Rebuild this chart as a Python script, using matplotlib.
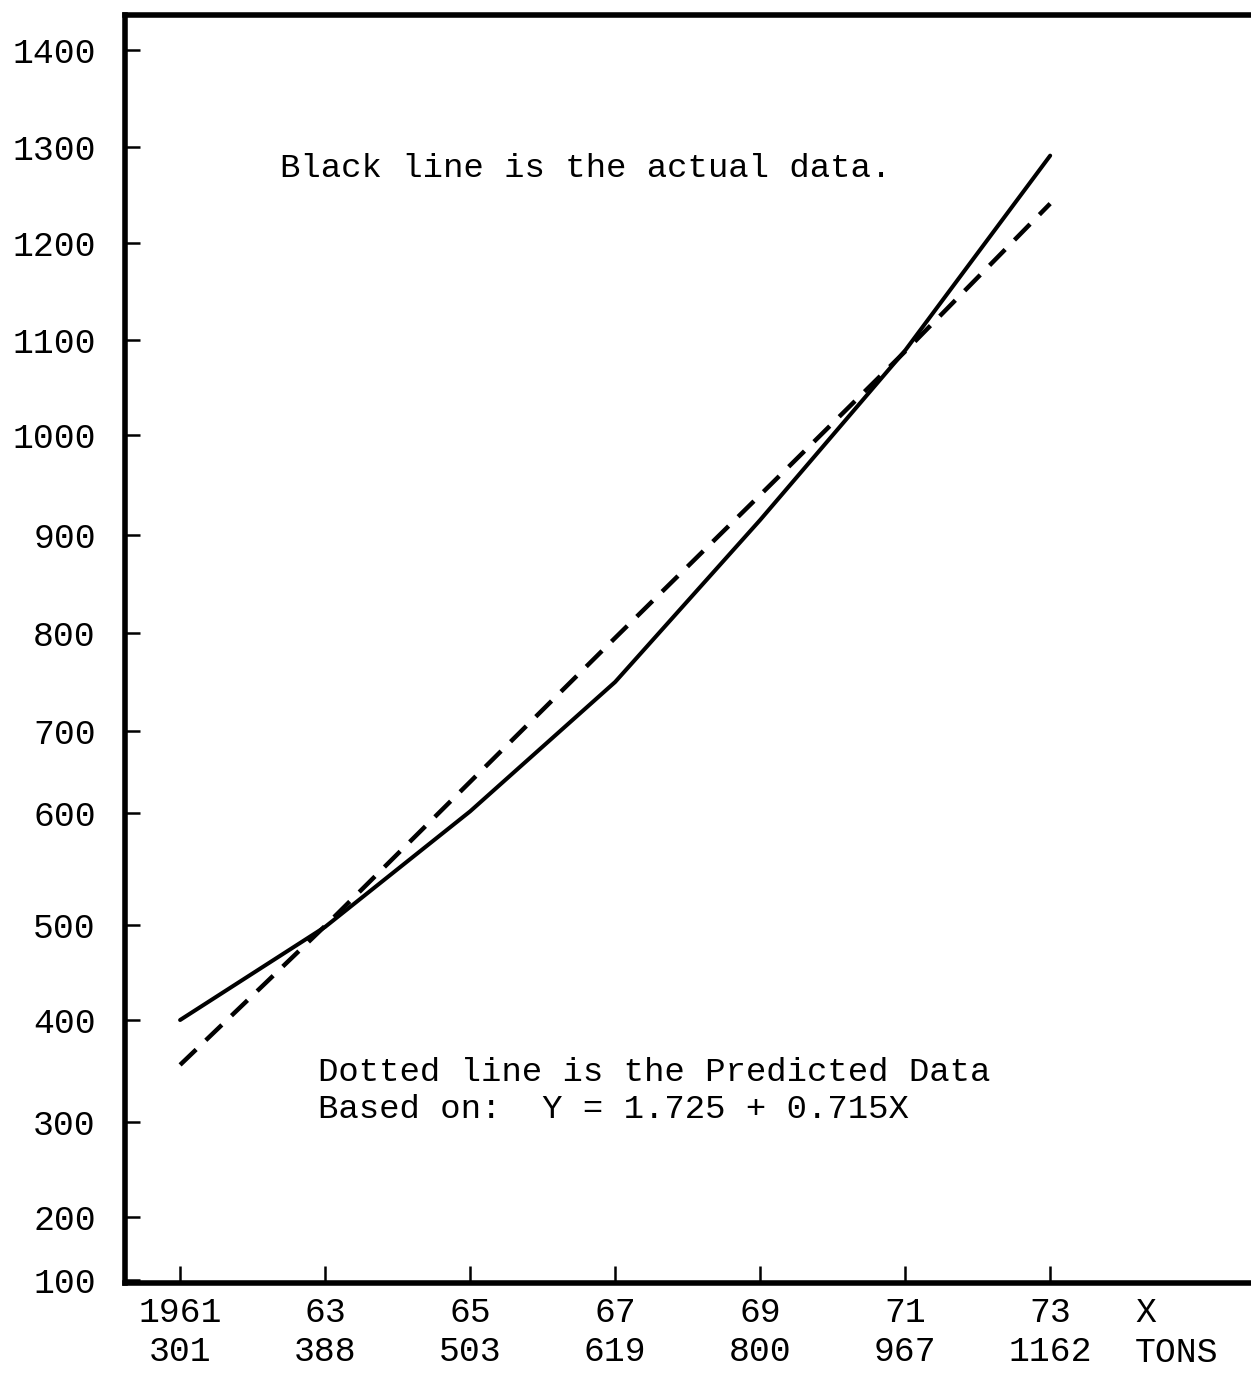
import numpy as np
import matplotlib
matplotlib.use('Agg')
import matplotlib.pyplot as plt
import matplotlib.transforms as mtransforms

plt.rcParams['font.family'] = ['Liberation Mono', 'DejaVu Sans Mono']

# data
years = [1961, 1963, 1965, 1967, 1969, 1971, 1973]
tons = [301, 388, 503, 619, 800, 967, 1162]
actual = [400, 498, 602, 750, 915, 1089, 1291]
predicted = [356, 499, 638, 795, 940, 1088, 1241]
y_ticks = [100, 200, 300, 400, 500, 600, 700, 800, 900, 1000, 1100, 1200, 1300, 1400]

# the y axis was ruled by hand, so the gridlines are not evenly spaced.
# map value -> height (px above the bottom rule) with a piecewise scale
scale_vals = [0, 100, 200, 300, 400, 500, 600, 700, 800, 900, 1000, 1100, 1200, 1300, 1400, 1500]
scale_px = [1343, 1280, 1217, 1122, 1020, 925, 813, 731, 633, 535, 435, 340, 243, 147, 50, -47]
scale_h = [1283 - p for p in scale_px]


def fwd(v):
    return np.interp(v, scale_vals, scale_h)


def inv(h):
    return np.interp(h, scale_h, scale_vals)


fig = plt.figure(figsize=(12.51, 13.75), dpi=100)
ax = fig.add_axes([125 / 1251, 92 / 1375, 1 - 125 / 1251, 1268 / 1375])
ax.set_yscale('function', functions=(fwd, inv))

ax.plot(years, actual, color='black', lw=2.9, solid_capstyle='round')
ax.plot(years, predicted, color='black', lw=3.2, dashes=(5, 3))

ax.set_xlim(1960.24, 1975.77)
ax.set_ylim(inv(0), inv(1283 - 15))

ax.set_yticks(y_ticks)
ax.set_yticklabels([str(v) for v in y_ticks])
ax.set_xticks(years)
ax.set_xticklabels(["%s\n%d" % (str(y) if i == 0 else str(y)[2:], t)
                    for i, (y, t) in enumerate(zip(years, tons))],
                   linespacing=1.25)
ax.minorticks_off()

ax.tick_params(axis='y', direction='in', length=11, width=1.8, pad=21, labelsize=25)
ax.tick_params(axis='x', direction='in', length=12, width=1.8, pad=9, labelsize=25)

for s in ['left', 'bottom', 'top']:
    ax.spines[s].set_linewidth(4)
ax.spines['right'].set_visible(False)

trans = mtransforms.blended_transform_factory(ax.transData, ax.transAxes)
ax.text(1974.17, -0.0105, "X\nTONS", transform=trans, ha='left', va='top',
        fontsize=25, linespacing=1.25)

ax.text(0.1377, 0.879, "Black line is the actual data.", transform=ax.transAxes,
        ha='left', va='center', fontsize=24.5)
ax.text(0.1714, 0.1514, "Dotted line is the Predicted Data\nBased on:  Y = 1.725 + 0.715X",
        transform=ax.transAxes, ha='left', va='center', fontsize=24.5, linespacing=1.25)

fig.savefig('out.png', dpi=100)
